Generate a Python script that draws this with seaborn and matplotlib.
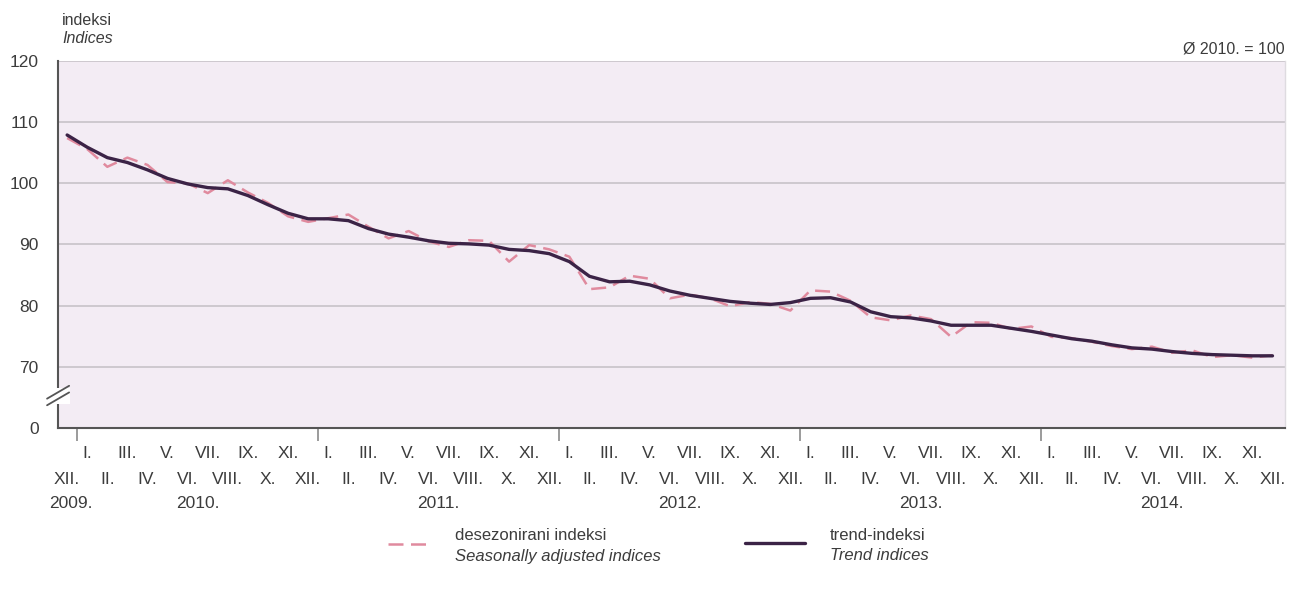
import matplotlib
matplotlib.use("Agg")
import matplotlib.pyplot as plt
from matplotlib.lines import Line2D
import matplotlib.transforms as mtrans
import numpy as np
import pandas as pd
import seaborn as sns

# ---------------- data ----------------
roman = ["I.", "II.", "III.", "IV.", "V.", "VI.", "VII.", "VIII.", "IX.", "X.", "XI.", "XII."]
month_labels = ["XII."] + roman * 5          # XII 2009 ... XII 2014
year_labels = ["2009.", "2010.", "2011.", "2012.", "2013.", "2014."]

seasonal = [107.4, 105.6, 102.7, 104.2, 103.0, 100.2, 100.0, 98.4, 100.5, 98.5, 96.8, 94.6,
            93.7, 94.3, 94.9, 92.9, 91.0, 92.2, 90.5, 89.6, 90.7, 90.6, 87.2, 89.9, 89.2,
            88.0, 82.7, 83.0, 84.9, 84.4, 81.2, 81.8, 81.2, 79.9, 80.6, 80.3, 79.2,
            82.5, 82.3, 80.8, 78.1, 77.6, 78.4, 77.8, 74.9, 77.3, 77.2, 76.2, 76.6,
            74.9, 74.7, 74.1, 73.4, 72.9, 73.3, 72.3, 72.7, 71.6, 71.9, 71.5, 71.9]

trend = [107.9, 105.9, 104.2, 103.4, 102.2, 100.8, 99.9, 99.3, 99.1, 98.0, 96.5, 95.1,
         94.2, 94.2, 93.9, 92.6, 91.7, 91.2, 90.6, 90.2, 90.1, 89.9, 89.2, 89.0, 88.5,
         87.2, 84.8, 83.9, 84.0, 83.4, 82.4, 81.7, 81.2, 80.7, 80.4, 80.2, 80.5,
         81.2, 81.3, 80.6, 79.0, 78.2, 78.0, 77.5, 76.8, 76.8, 76.8, 76.3, 75.8,
         75.2, 74.6, 74.2, 73.6, 73.1, 72.9, 72.5, 72.2, 72.0, 71.9, 71.8, 71.8]

y_ticks = [60, 70, 80, 90, 100, 110, 120]          # 60 is the broken-axis "0"
y_tick_labels = ["0", "70", "80", "90", "100", "110", "120"]

df = pd.DataFrame({"t": np.arange(len(month_labels)),
                   "seasonal": seasonal, "trend": trend})

# ---------------- style ----------------
sns.set_style("white")
plt.rcParams["font.family"] = ["Liberation Sans Narrow", "Liberation Sans", "DejaVu Sans"]
TXT = "#3c3c3c"
BG = "#f3ecf4"
PINK = "#e08a9e"
PURPLE = "#3b2346"

fig = plt.figure(figsize=(12.91, 5.92), dpi=100)
ax = fig.add_axes([0.045, 0.277, 0.950, 0.620])
ax.set_facecolor(BG)

sns.lineplot(data=df, x="t", y="seasonal", ax=ax, color=PINK, linewidth=1.8,
             dashes=False, zorder=3)
ax.lines[-1].set_dashes((6, 3))
sns.lineplot(data=df, x="t", y="trend", ax=ax, color=PURPLE, linewidth=2.4, zorder=4)

ax.set_xlim(-0.45, 60.6)
ax.set_ylim(60, 120)

# horizontal grid
for v in y_ticks[1:]:
    ax.axhline(v, color="#cbc6cc", lw=1.3, zorder=1)

ax.set_yticks(y_ticks)
ax.set_yticklabels(y_tick_labels, fontsize=12.5, color=TXT)
ax.tick_params(axis="y", length=0, pad=14)

# x ticks: year boundaries (major, marks) + months (minor, labels)
ax.set_xticks([0.5, 12.5, 24.5, 36.5, 48.5])
ax.set_xticklabels([])
ax.tick_params(axis="x", which="major", bottom=True, length=9, width=1.2,
               color="#8a8a8a", direction="out")
ax.set_xticks(df["t"].values, minor=True)
ax.set_xticklabels(month_labels, minor=True, fontsize=12.5, color=TXT)
ax.tick_params(axis="x", which="minor", bottom=True, length=0)
for i, tk in enumerate(ax.xaxis.get_minor_ticks()):
    tk.set_pad(13 if i % 2 == 1 else 32)

ax.set_xlabel("")
ax.set_ylabel("")

# year labels
trans = mtrans.blended_transform_factory(ax.transData, ax.transAxes)
year_pos = [0.2, 6.5, 18.5, 30.5, 42.5, 54.5]
for xp, lab in zip(year_pos, year_labels):
    ax.text(xp, -0.205, lab, transform=trans, ha="center", va="center",
            fontsize=12.5, color=TXT)

# spines
ax.spines["top"].set_visible(False)
ax.spines["right"].set_color("#dedbe0")
ax.spines["right"].set_linewidth(1.0)
ax.spines["left"].set_color("#555555")
ax.spines["left"].set_linewidth(1.5)
ax.spines["bottom"].set_color("#555555")
ax.spines["bottom"].set_linewidth(1.5)

# axis break on the left spine
ax.add_patch(plt.Rectangle((-0.01, 0.065), 0.02, 0.045, transform=ax.transAxes,
                           facecolor="white", edgecolor="none", clip_on=False, zorder=5))
for dy in (0.0, 0.018):
    ax.add_line(Line2D([-0.009, 0.009], [0.062 + dy, 0.097 + dy], transform=ax.transAxes,
                       color="#555555", lw=1.3, clip_on=False, zorder=6))

# header texts
fig.text(0.048, 0.965, "indeksi", fontsize=11.5, color=TXT, ha="left", va="center")
fig.text(0.048, 0.935, "Indices", fontsize=11.5, color=TXT, ha="left", va="center",
         style="italic")
fig.text(0.995, 0.918, "Ø 2010. = 100", fontsize=11.5, color=TXT, ha="right", va="center")

# legend
fig.add_artist(Line2D([388 / 1291, 432 / 1291], [1 - 544 / 592] * 2, color=PINK,
                      lw=1.8, dashes=(6, 3)))
fig.text(455 / 1291, 1 - 535 / 592, "desezonirani indeksi", fontsize=12, color=TXT,
         ha="left", va="center")
fig.text(455 / 1291, 1 - 556 / 592, "Seasonally adjusted indices", fontsize=12, color=TXT,
         ha="left", va="center", style="italic")
fig.add_artist(Line2D([745 / 1291, 805 / 1291], [1 - 543 / 592] * 2, color=PURPLE, lw=2.4))
fig.text(830 / 1291, 1 - 535 / 592, "trend-indeksi", fontsize=12, color=TXT,
         ha="left", va="center")
fig.text(830 / 1291, 1 - 556 / 592, "Trend indices", fontsize=12, color=TXT,
         ha="left", va="center", style="italic")

fig.savefig("out.png", dpi=100, facecolor="white")
